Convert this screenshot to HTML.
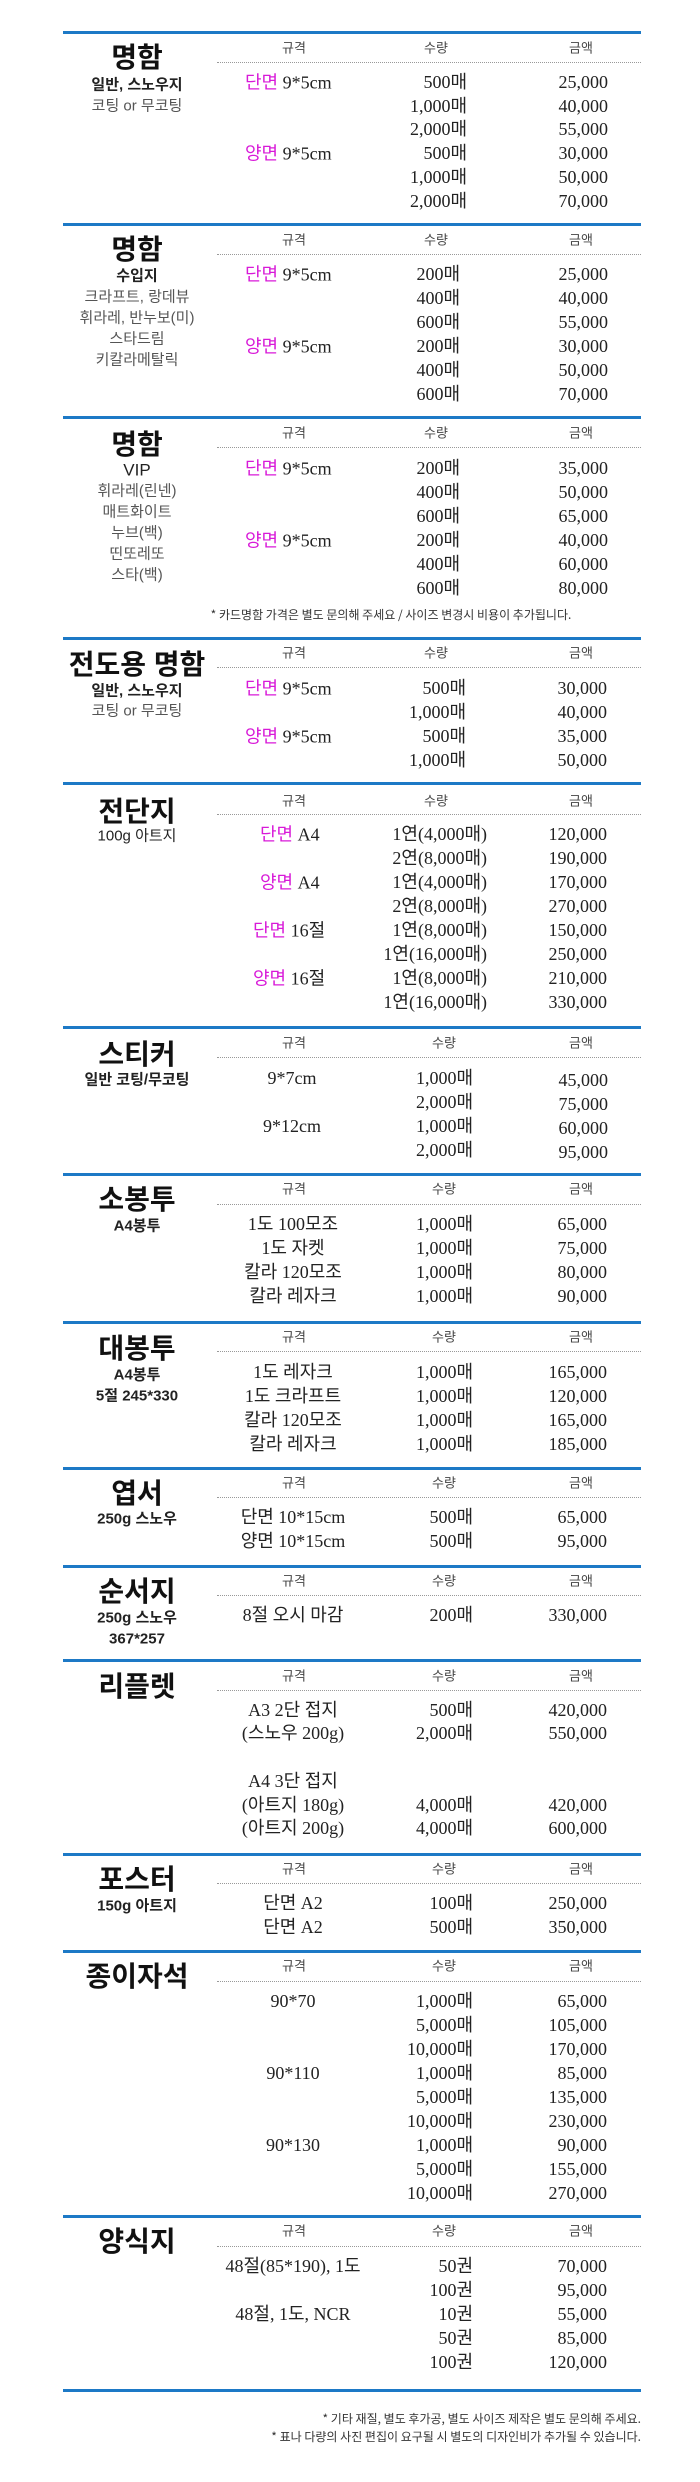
<!DOCTYPE html>
<html><head><meta charset="utf-8">
<style>
*{margin:0;padding:0;box-sizing:border-box}
body{width:700px;height:2482px;background:#fff;position:relative;overflow:hidden;font-family:"Liberation Serif","Noto Sans CJK KR",serif;color:#222}
.ln{position:absolute;left:63px;width:578px;height:3px;background:#1d79c6}
.dt{position:absolute;left:217px;width:424px;border-top:1.5px dotted #999}
.c,.R,.L{position:absolute;white-space:nowrap;line-height:1}
.c{transform:translate(-50%,-50%)}
.R{transform:translate(-100%,-50%)}
.L{transform:translateY(-50%)}
.hd{font-family:"Noto Sans CJK KR",sans-serif;font-size:13px;color:#444}
.v{font-size:18px;color:#222}
.t{font-family:"Liberation Sans","Noto Sans CJK KR",sans-serif;font-weight:bold;font-size:28px;color:#111}
.sb{font-family:"Liberation Sans","Noto Sans CJK KR",sans-serif;font-size:15px;color:#222;font-weight:bold}
.sg{font-family:"Liberation Sans","Noto Sans CJK KR",sans-serif;font-size:15px;color:#555}
.p{color:#d81ad8;font-family:"Noto Sans CJK KR",sans-serif}
.nt{font-family:"Noto Sans CJK KR",sans-serif;font-size:12px;color:#333}
</style></head><body>

<!-- 1 -->
<div class="ln" style="top:31px"></div>
<div class="c hd" style="left:294px;top:47px">규격</div><div class="c hd" style="left:436px;top:47px">수량</div><div class="c hd" style="left:581px;top:47px">금액</div>
<div class="dt" style="top:62px"></div>
<div class="c t" style="left:137px;top:58px">명함</div>
<div class="c sb" style="left:137px;top:85px">일반, 스노우지</div>
<div class="c sg" style="left:137px;top:106px">코팅 or 무코팅</div>
<div class="L v" style="left:245px;top:82px"><span class="p">단면</span> 9*5cm</div>
<div class="L v" style="left:245px;top:153px"><span class="p">양면</span> 9*5cm</div>
<div class="R v" style="left:467px;top:82px">500매</div><div class="R v" style="left:608px;top:82px">25,000</div>
<div class="R v" style="left:467px;top:106px">1,000매</div><div class="R v" style="left:608px;top:106px">40,000</div>
<div class="R v" style="left:467px;top:129px">2,000매</div><div class="R v" style="left:608px;top:129px">55,000</div>
<div class="R v" style="left:467px;top:153px">500매</div><div class="R v" style="left:608px;top:153px">30,000</div>
<div class="R v" style="left:467px;top:177px">1,000매</div><div class="R v" style="left:608px;top:177px">50,000</div>
<div class="R v" style="left:467px;top:201px">2,000매</div><div class="R v" style="left:608px;top:201px">70,000</div>

<!-- 2 -->
<div class="ln" style="top:223px"></div>
<div class="c hd" style="left:294px;top:239px">규격</div><div class="c hd" style="left:436px;top:239px">수량</div><div class="c hd" style="left:581px;top:239px">금액</div>
<div class="dt" style="top:254px"></div>
<div class="c t" style="left:137px;top:250px">명함</div>
<div class="c sb" style="left:137px;top:276px">수입지</div>
<div class="c sg" style="left:137px;top:297px">크라프트, 랑데뷰</div>
<div class="c sg" style="left:137px;top:318px">휘라레, 반누보(미)</div>
<div class="c sg" style="left:137px;top:339px">스타드림</div>
<div class="c sg" style="left:137px;top:360px">키칼라메탈릭</div>
<div class="L v" style="left:245px;top:274px"><span class="p">단면</span> 9*5cm</div>
<div class="L v" style="left:245px;top:346px"><span class="p">양면</span> 9*5cm</div>
<div class="R v" style="left:460px;top:274px">200매</div><div class="R v" style="left:608px;top:274px">25,000</div>
<div class="R v" style="left:460px;top:298px">400매</div><div class="R v" style="left:608px;top:298px">40,000</div>
<div class="R v" style="left:460px;top:322px">600매</div><div class="R v" style="left:608px;top:322px">55,000</div>
<div class="R v" style="left:460px;top:346px">200매</div><div class="R v" style="left:608px;top:346px">30,000</div>
<div class="R v" style="left:460px;top:370px">400매</div><div class="R v" style="left:608px;top:370px">50,000</div>
<div class="R v" style="left:460px;top:394px">600매</div><div class="R v" style="left:608px;top:394px">70,000</div>

<!-- 3 -->
<div class="ln" style="top:416px"></div>
<div class="c hd" style="left:294px;top:432px">규격</div><div class="c hd" style="left:436px;top:432px">수량</div><div class="c hd" style="left:581px;top:432px">금액</div>
<div class="dt" style="top:447px"></div>
<div class="c t" style="left:137px;top:445px">명함</div>
<div class="c sb" style="left:137px;top:470px;font-weight:normal;font-size:17px">VIP</div>
<div class="c sg" style="left:137px;top:491px">휘라레(린넨)</div>
<div class="c sg" style="left:137px;top:512px">매트화이트</div>
<div class="c sg" style="left:137px;top:533px">누브(백)</div>
<div class="c sg" style="left:137px;top:554px">띤또레또</div>
<div class="c sg" style="left:137px;top:575px">스타(백)</div>
<div class="L v" style="left:245px;top:468px"><span class="p">단면</span> 9*5cm</div>
<div class="L v" style="left:245px;top:540px"><span class="p">양면</span> 9*5cm</div>
<div class="R v" style="left:460px;top:468px">200매</div><div class="R v" style="left:608px;top:468px">35,000</div>
<div class="R v" style="left:460px;top:492px">400매</div><div class="R v" style="left:608px;top:492px">50,000</div>
<div class="R v" style="left:460px;top:516px">600매</div><div class="R v" style="left:608px;top:516px">65,000</div>
<div class="R v" style="left:460px;top:540px">200매</div><div class="R v" style="left:608px;top:540px">40,000</div>
<div class="R v" style="left:460px;top:564px">400매</div><div class="R v" style="left:608px;top:564px">60,000</div>
<div class="R v" style="left:460px;top:588px">600매</div><div class="R v" style="left:608px;top:588px">80,000</div>
<div class="c nt" style="left:391px;top:615px">* 카드명함 가격은 별도 문의해 주세요 / 사이즈 변경시 비용이 추가됩니다.</div>

<!-- 4 -->
<div class="ln" style="top:637px"></div>
<div class="c hd" style="left:294px;top:652px">규격</div><div class="c hd" style="left:436px;top:652px">수량</div><div class="c hd" style="left:581px;top:652px">금액</div>
<div class="dt" style="top:667px"></div>
<div class="c t" style="left:137px;top:665px">전도용 명함</div>
<div class="c sb" style="left:137px;top:691px">일반, 스노우지</div>
<div class="c sg" style="left:137px;top:711px">코팅 or 무코팅</div>
<div class="L v" style="left:245px;top:688px"><span class="p">단면</span> 9*5cm</div>
<div class="L v" style="left:245px;top:736px"><span class="p">양면</span> 9*5cm</div>
<div class="R v" style="left:466px;top:688px">500매</div><div class="R v" style="left:607px;top:688px">30,000</div>
<div class="R v" style="left:466px;top:712px">1,000매</div><div class="R v" style="left:607px;top:712px">40,000</div>
<div class="R v" style="left:466px;top:736px">500매</div><div class="R v" style="left:607px;top:736px">35,000</div>
<div class="R v" style="left:466px;top:760px">1,000매</div><div class="R v" style="left:607px;top:760px">50,000</div>

<!-- 5 -->
<div class="ln" style="top:782px"></div>
<div class="c hd" style="left:294px;top:800px">규격</div><div class="c hd" style="left:436px;top:800px">수량</div><div class="c hd" style="left:581px;top:800px">금액</div>
<div class="dt" style="top:814px"></div>
<div class="c t" style="left:137px;top:812px">전단지</div>
<div class="c sg" style="left:137px;top:836px;color:#222">100g 아트지</div>
<div class="L v" style="left:260px;top:834px"><span class="p">단면</span> A4</div>
<div class="L v" style="left:260px;top:882px"><span class="p">양면</span> A4</div>
<div class="L v" style="left:253px;top:930px"><span class="p">단면</span> 16절</div>
<div class="L v" style="left:253px;top:978px"><span class="p">양면</span> 16절</div>
<div class="R v" style="left:487px;top:834px">1연(4,000매)</div><div class="R v" style="left:607px;top:834px">120,000</div>
<div class="R v" style="left:487px;top:858px">2연(8,000매)</div><div class="R v" style="left:607px;top:858px">190,000</div>
<div class="R v" style="left:487px;top:882px">1연(4,000매)</div><div class="R v" style="left:607px;top:882px">170,000</div>
<div class="R v" style="left:487px;top:906px">2연(8,000매)</div><div class="R v" style="left:607px;top:906px">270,000</div>
<div class="R v" style="left:487px;top:930px">1연(8,000매)</div><div class="R v" style="left:607px;top:930px">150,000</div>
<div class="R v" style="left:487px;top:954px">1연(16,000매)</div><div class="R v" style="left:607px;top:954px">250,000</div>
<div class="R v" style="left:487px;top:978px">1연(8,000매)</div><div class="R v" style="left:607px;top:978px">210,000</div>
<div class="R v" style="left:487px;top:1002px">1연(16,000매)</div><div class="R v" style="left:607px;top:1002px">330,000</div>

<!-- 6 -->
<div class="ln" style="top:1026px"></div>
<div class="c hd" style="left:294px;top:1042px">규격</div><div class="c hd" style="left:444px;top:1042px">수량</div><div class="c hd" style="left:581px;top:1042px">금액</div>
<div class="dt" style="top:1057px"></div>
<div class="c t" style="left:137px;top:1055px">스티커</div>
<div class="c sb" style="left:137px;top:1080px">일반 코팅/무코팅</div>
<div class="c v" style="left:292px;top:1078px">9*7cm</div>
<div class="c v" style="left:292px;top:1126px">9*12cm</div>
<div class="R v" style="left:473px;top:1078px">1,000매</div><div class="R v" style="left:608px;top:1080px">45,000</div>
<div class="R v" style="left:473px;top:1102px">2,000매</div><div class="R v" style="left:608px;top:1104px">75,000</div>
<div class="R v" style="left:473px;top:1126px">1,000매</div><div class="R v" style="left:608px;top:1128px">60,000</div>
<div class="R v" style="left:473px;top:1150px">2,000매</div><div class="R v" style="left:608px;top:1152px">95,000</div>

<!-- 7 -->
<div class="ln" style="top:1173px"></div>
<div class="c hd" style="left:294px;top:1188px">규격</div><div class="c hd" style="left:444px;top:1188px">수량</div><div class="c hd" style="left:581px;top:1188px">금액</div>
<div class="dt" style="top:1204px"></div>
<div class="c t" style="left:137px;top:1200px">소봉투</div>
<div class="c sb" style="left:137px;top:1226px">A4봉투</div>
<div class="c v" style="left:293px;top:1224px">1도 100모조</div>
<div class="c v" style="left:293px;top:1248px">1도 자켓</div>
<div class="c v" style="left:293px;top:1272px">칼라 120모조</div>
<div class="c v" style="left:293px;top:1296px">칼라 레자크</div>
<div class="R v" style="left:473px;top:1224px">1,000매</div><div class="R v" style="left:607px;top:1224px">65,000</div>
<div class="R v" style="left:473px;top:1248px">1,000매</div><div class="R v" style="left:607px;top:1248px">75,000</div>
<div class="R v" style="left:473px;top:1272px">1,000매</div><div class="R v" style="left:607px;top:1272px">80,000</div>
<div class="R v" style="left:473px;top:1296px">1,000매</div><div class="R v" style="left:607px;top:1296px">90,000</div>

<!-- 8 -->
<div class="ln" style="top:1321px"></div>
<div class="c hd" style="left:294px;top:1336px">규격</div><div class="c hd" style="left:444px;top:1336px">수량</div><div class="c hd" style="left:581px;top:1336px">금액</div>
<div class="dt" style="top:1351px"></div>
<div class="c t" style="left:137px;top:1349px">대봉투</div>
<div class="c sb" style="left:137px;top:1375px">A4봉투</div>
<div class="c sb" style="left:137px;top:1396px">5절 245*330</div>
<div class="c v" style="left:293px;top:1372px">1도 레자크</div>
<div class="c v" style="left:293px;top:1396px">1도 크라프트</div>
<div class="c v" style="left:293px;top:1420px">칼라 120모조</div>
<div class="c v" style="left:293px;top:1444px">칼라 레자크</div>
<div class="R v" style="left:473px;top:1372px">1,000매</div><div class="R v" style="left:607px;top:1372px">165,000</div>
<div class="R v" style="left:473px;top:1396px">1,000매</div><div class="R v" style="left:607px;top:1396px">120,000</div>
<div class="R v" style="left:473px;top:1420px">1,000매</div><div class="R v" style="left:607px;top:1420px">165,000</div>
<div class="R v" style="left:473px;top:1444px">1,000매</div><div class="R v" style="left:607px;top:1444px">185,000</div>

<!-- 9 -->
<div class="ln" style="top:1467px"></div>
<div class="c hd" style="left:294px;top:1482px">규격</div><div class="c hd" style="left:444px;top:1482px">수량</div><div class="c hd" style="left:581px;top:1482px">금액</div>
<div class="dt" style="top:1497px"></div>
<div class="c t" style="left:137px;top:1494px">엽서</div>
<div class="c sb" style="left:137px;top:1519px">250g 스노우</div>
<div class="c v" style="left:293px;top:1517px">단면 10*15cm</div>
<div class="c v" style="left:293px;top:1541px">양면 10*15cm</div>
<div class="R v" style="left:473px;top:1517px">500매</div><div class="R v" style="left:607px;top:1517px">65,000</div>
<div class="R v" style="left:473px;top:1541px">500매</div><div class="R v" style="left:607px;top:1541px">95,000</div>

<!-- 10 -->
<div class="ln" style="top:1565px"></div>
<div class="c hd" style="left:294px;top:1580px">규격</div><div class="c hd" style="left:444px;top:1580px">수량</div><div class="c hd" style="left:581px;top:1580px">금액</div>
<div class="dt" style="top:1595px"></div>
<div class="c t" style="left:137px;top:1592px">순서지</div>
<div class="c sb" style="left:137px;top:1618px">250g 스노우</div>
<div class="c sb" style="left:137px;top:1639px">367*257</div>
<div class="c v" style="left:293px;top:1615px">8절 오시 마감</div>
<div class="R v" style="left:473px;top:1615px">200매</div><div class="R v" style="left:607px;top:1615px">330,000</div>

<!-- 11 -->
<div class="ln" style="top:1659px"></div>
<div class="c hd" style="left:294px;top:1675px">규격</div><div class="c hd" style="left:444px;top:1675px">수량</div><div class="c hd" style="left:581px;top:1675px">금액</div>
<div class="dt" style="top:1690px"></div>
<div class="c t" style="left:137px;top:1687px">리플렛</div>
<div class="c v" style="left:293px;top:1710px">A3 2단 접지</div>
<div class="c v" style="left:293px;top:1733px">(스노우 200g)</div>
<div class="c v" style="left:293px;top:1781px">A4 3단 접지</div>
<div class="c v" style="left:293px;top:1805px">(아트지 180g)</div>
<div class="c v" style="left:293px;top:1828px">(아트지 200g)</div>
<div class="R v" style="left:473px;top:1710px">500매</div><div class="R v" style="left:607px;top:1710px">420,000</div>
<div class="R v" style="left:473px;top:1733px">2,000매</div><div class="R v" style="left:607px;top:1733px">550,000</div>
<div class="R v" style="left:473px;top:1805px">4,000매</div><div class="R v" style="left:607px;top:1805px">420,000</div>
<div class="R v" style="left:473px;top:1828px">4,000매</div><div class="R v" style="left:607px;top:1828px">600,000</div>

<!-- 12 -->
<div class="ln" style="top:1853px"></div>
<div class="c hd" style="left:294px;top:1868px">규격</div><div class="c hd" style="left:444px;top:1868px">수량</div><div class="c hd" style="left:581px;top:1868px">금액</div>
<div class="dt" style="top:1883px"></div>
<div class="c t" style="left:137px;top:1880px">포스터</div>
<div class="c sb" style="left:137px;top:1906px">150g 아트지</div>
<div class="c v" style="left:293px;top:1903px">단면 A2</div>
<div class="c v" style="left:293px;top:1927px">단면 A2</div>
<div class="R v" style="left:473px;top:1903px">100매</div><div class="R v" style="left:607px;top:1903px">250,000</div>
<div class="R v" style="left:473px;top:1927px">500매</div><div class="R v" style="left:607px;top:1927px">350,000</div>

<!-- 13 -->
<div class="ln" style="top:1950px"></div>
<div class="c hd" style="left:294px;top:1965px">규격</div><div class="c hd" style="left:444px;top:1965px">수량</div><div class="c hd" style="left:581px;top:1965px">금액</div>
<div class="dt" style="top:1981px"></div>
<div class="c t" style="left:137px;top:1977px">종이자석</div>
<div class="c v" style="left:293px;top:2001px">90*70</div>
<div class="c v" style="left:293px;top:2073px">90*110</div>
<div class="c v" style="left:293px;top:2145px">90*130</div>
<div class="R v" style="left:473px;top:2001px">1,000매</div><div class="R v" style="left:607px;top:2001px">65,000</div>
<div class="R v" style="left:473px;top:2025px">5,000매</div><div class="R v" style="left:607px;top:2025px">105,000</div>
<div class="R v" style="left:473px;top:2049px">10,000매</div><div class="R v" style="left:607px;top:2049px">170,000</div>
<div class="R v" style="left:473px;top:2073px">1,000매</div><div class="R v" style="left:607px;top:2073px">85,000</div>
<div class="R v" style="left:473px;top:2097px">5,000매</div><div class="R v" style="left:607px;top:2097px">135,000</div>
<div class="R v" style="left:473px;top:2121px">10,000매</div><div class="R v" style="left:607px;top:2121px">230,000</div>
<div class="R v" style="left:473px;top:2145px">1,000매</div><div class="R v" style="left:607px;top:2145px">90,000</div>
<div class="R v" style="left:473px;top:2169px">5,000매</div><div class="R v" style="left:607px;top:2169px">155,000</div>
<div class="R v" style="left:473px;top:2193px">10,000매</div><div class="R v" style="left:607px;top:2193px">270,000</div>

<!-- 14 -->
<div class="ln" style="top:2215px"></div>
<div class="c hd" style="left:294px;top:2230px">규격</div><div class="c hd" style="left:444px;top:2230px">수량</div><div class="c hd" style="left:581px;top:2230px">금액</div>
<div class="dt" style="top:2246px"></div>
<div class="c t" style="left:137px;top:2242px">양식지</div>
<div class="c v" style="left:293px;top:2266px">48절(85*190), 1도</div>
<div class="c v" style="left:293px;top:2314px">48절, 1도, NCR</div>
<div class="R v" style="left:473px;top:2266px">50권</div><div class="R v" style="left:607px;top:2266px">70,000</div>
<div class="R v" style="left:473px;top:2290px">100권</div><div class="R v" style="left:607px;top:2290px">95,000</div>
<div class="R v" style="left:473px;top:2314px">10권</div><div class="R v" style="left:607px;top:2314px">55,000</div>
<div class="R v" style="left:473px;top:2338px">50권</div><div class="R v" style="left:607px;top:2338px">85,000</div>
<div class="R v" style="left:473px;top:2362px">100권</div><div class="R v" style="left:607px;top:2362px">120,000</div>

<div class="ln" style="top:2389px"></div>
<div class="R nt" style="left:641px;top:2419px">* 기타 재질, 별도 후가공, 별도 사이즈 제작은 별도 문의해 주세요.</div>
<div class="R nt" style="left:641px;top:2437px">* 표나 다량의 사진 편집이 요구될 시 별도의 디자인비가 추가될 수 있습니다.</div>
</body></html>
